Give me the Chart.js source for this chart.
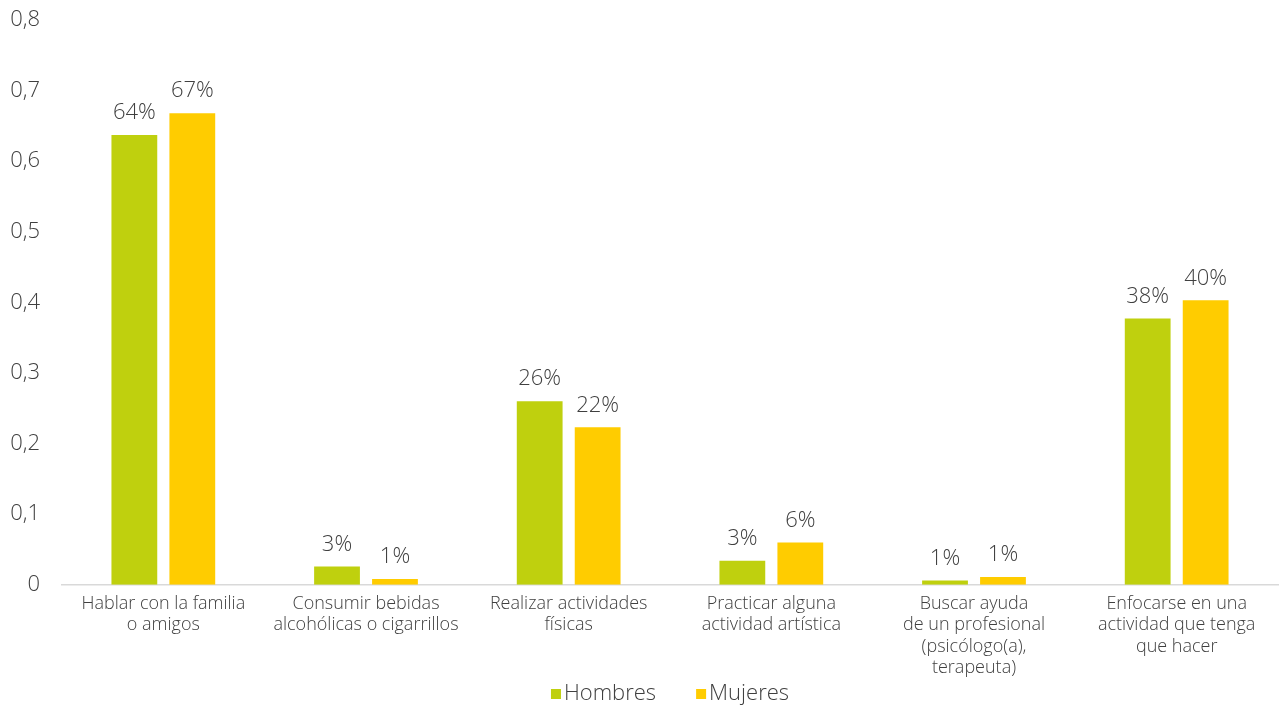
<!DOCTYPE html>
<html>
<head>
<meta charset="utf-8">
<script src="https://cdn.jsdelivr.net/npm/chart.js@4/dist/chart.umd.min.js"></script>
<style>
html,body{margin:0;padding:0;background:#fff;}
#wrap{width:1280px;height:709px;position:relative;}
</style>
</head>
<body>
<div id="wrap"><canvas id="c" width="1280" height="709"></canvas></div>
<script>
const categories = [
  ["Hablar con la familia", "o amigos"],
  ["Consumir bebidas", "alcohólicas o cigarrillos"],
  ["Realizar actividades", "físicas"],
  ["Practicar alguna", "actividad artística"],
  ["Buscar ayuda", "de un profesional", "(psicólogo(a),", "terapeuta)"],
  ["Enfocarse en una", "actividad que tenga", "que hacer"]
];
const seriesNames = ["Hombres", "Mujeres"];
const hombres = [0.637, 0.026, 0.260, 0.034, 0.006, 0.377];
const mujeres = [0.668, 0.008, 0.223, 0.060, 0.011, 0.403];
const yTicks = [0, 0.1, 0.2, 0.3, 0.4, 0.5, 0.6, 0.7, 0.8];
const colors = ['#BFD00E', '#FFCC00'];

const FONT = "'Open Sans', sans-serif";
const W = 300;
const TEXT = "#404040";

const dataLabels = {
  id: 'dataLabels',
  afterDatasetsDraw(chart) {
    const ctx = chart.ctx;
    ctx.save();
    ctx.font = W + " 22px " + FONT;
    ctx.fillStyle = TEXT;
    ctx.textAlign = 'center';
    ctx.textBaseline = 'bottom';
    chart.data.datasets.forEach((ds, i) => {
      const meta = chart.getDatasetMeta(i);
      meta.data.forEach((bar, j) => {
        const v = ds.data[j];
        ctx.fillText(Math.round(v * 100) + '%', bar.x, bar.y - 11);
      });
    });
    ctx.restore();
  }
};

const bottomLegend = {
  id: 'bottomLegend',
  afterDraw(chart) {
    const ctx = chart.ctx;
    const ca = chart.chartArea;
    ctx.save();
    ctx.font = W + " 22px " + FONT;
    const box = 10, gapBox = 3, gapItem = 40;
    const items = chart.data.datasets.map(ds => ({ text: ds.label, color: ds.backgroundColor, w: ctx.measureText(ds.label).width }));
    let total = 0;
    items.forEach((it, i) => { total += box + gapBox + it.w + (i < items.length - 1 ? gapItem : 0); });
    let x = (ca.left + ca.right) / 2 - total / 2;
    const y = 694;
    ctx.textBaseline = 'middle';
    ctx.textAlign = 'left';
    items.forEach(it => {
      ctx.fillStyle = it.color;
      ctx.fillRect(x, y - box / 2, box, box);
      x += box + gapBox;
      ctx.fillStyle = TEXT;
      ctx.fillText(it.text, x, y);
      x += it.w + gapItem;
    });
    ctx.restore();
  }
};

new Chart(document.getElementById('c'), {
  type: 'bar',
  data: {
    labels: categories,
    datasets: [
      { label: seriesNames[0], data: hombres, backgroundColor: colors[0], categoryPercentage: 0.572, barPercentage: 0.79 },
      { label: seriesNames[1], data: mujeres, backgroundColor: colors[1], categoryPercentage: 0.572, barPercentage: 0.79 }
    ]
  },
  options: {
    responsive: false,
    animation: false,
    layout: { padding: { top: 20, right: 2, left: 8, bottom: 22 } },
    plugins: {
      legend: { display: false },
      tooltip: { enabled: false }
    },
    scales: {
      x: {
        grid: { display: false, drawTicks: false },
        border: { display: true, color: '#D9D9D9', width: 1.5 },
        ticks: {
          color: TEXT,
          font: { size: 18, family: FONT, weight: W, lineHeight: 1.17 },
          maxRotation: 0,
          autoSkip: false,
          padding: 9
        },
        afterFit(axis) { axis.paddingLeft = 0; axis.paddingRight = 0; }
      },
      y: {
        min: 0, max: 0.8,
        afterBuildTicks(axis) { axis.ticks = yTicks.map(v => ({ value: v })); },
        grid: { display: false, drawTicks: false },
        border: { display: false },
        ticks: {
          color: TEXT,
          font: { size: 22, family: FONT, weight: W },
          padding: 22,
          callback: v => v === 0 ? '0' : v.toFixed(1).replace('.', ',')
        },
        afterFit(axis) { axis.width = 54; axis.paddingTop = 0; axis.paddingBottom = 0; }
      }
    }
  },
  plugins: [dataLabels, bottomLegend]
});
</script>
</body>
</html>
